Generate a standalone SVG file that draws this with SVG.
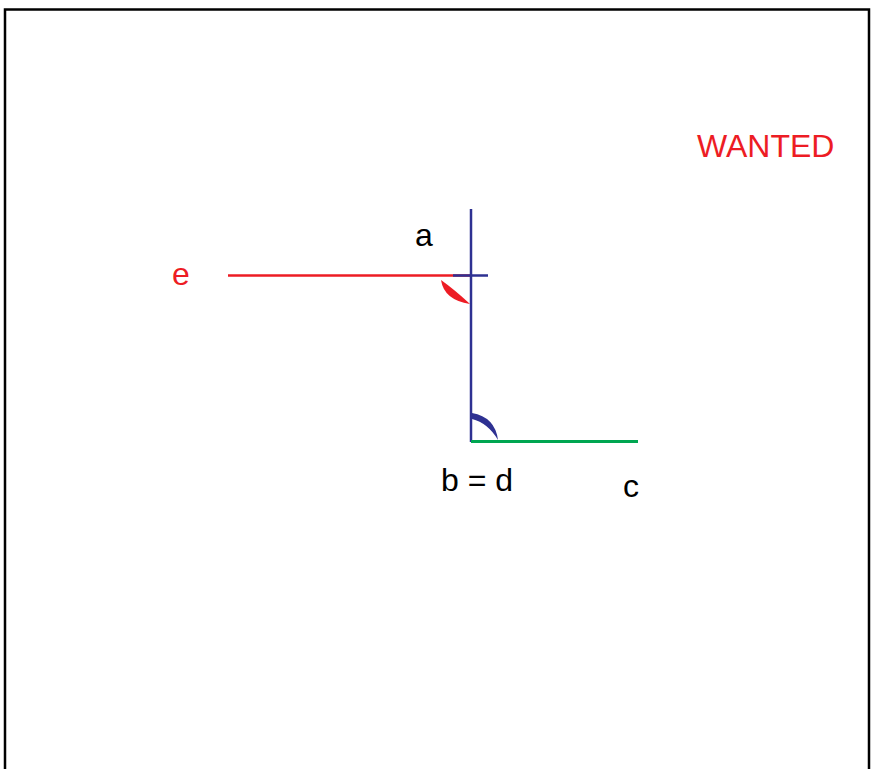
<svg xmlns="http://www.w3.org/2000/svg" width="873" height="769" viewBox="0 0 873 769">
<style>
text{font-family:"Liberation Sans",Arial,sans-serif;font-size:32px}
.blk{fill:#000}
.red{fill:#ed1c24}
</style>
<rect x="0" y="0" width="873" height="769" fill="#fff"/>
<path d="M5,769 V9.5 H869 V769" fill="none" stroke="#000" stroke-width="2.5"/>
<g id="connectors">
<line x1="228" y1="275.5" x2="471" y2="275.5" stroke="#ed1c24" stroke-width="2.5"/>
<line x1="453" y1="275.5" x2="488" y2="275.5" stroke="#2e3192" stroke-width="2.5"/>
<line x1="471" y1="209" x2="471" y2="442" stroke="#2e3192" stroke-width="2.5"/>
<line x1="471" y1="441.5" x2="638" y2="441.5" stroke="#00a651" stroke-width="3"/>
</g>
<g id="angle-e">
<path d="M441,280 Q444,300 470,304 Q455,290 441,280 Z" fill="#ed1c24"/>
</g>
<g id="angle-d">
<path d="M472,413 Q495,417 498,440 Q488,423 472,419 Z" fill="#2e3192"/>
</g>
<g id="label-a"><text class="blk" x="415" y="246">a</text></g>
<g id="label-e"><text class="red" x="172" y="285">e</text></g>
<g id="label-bd"><text class="blk" x="441" y="491">b = d</text></g>
<g id="label-c"><text class="blk" x="623" y="497">c</text></g>
<g id="label-wanted"><text class="red" x="697" y="157">WANTED</text></g>
</svg>
